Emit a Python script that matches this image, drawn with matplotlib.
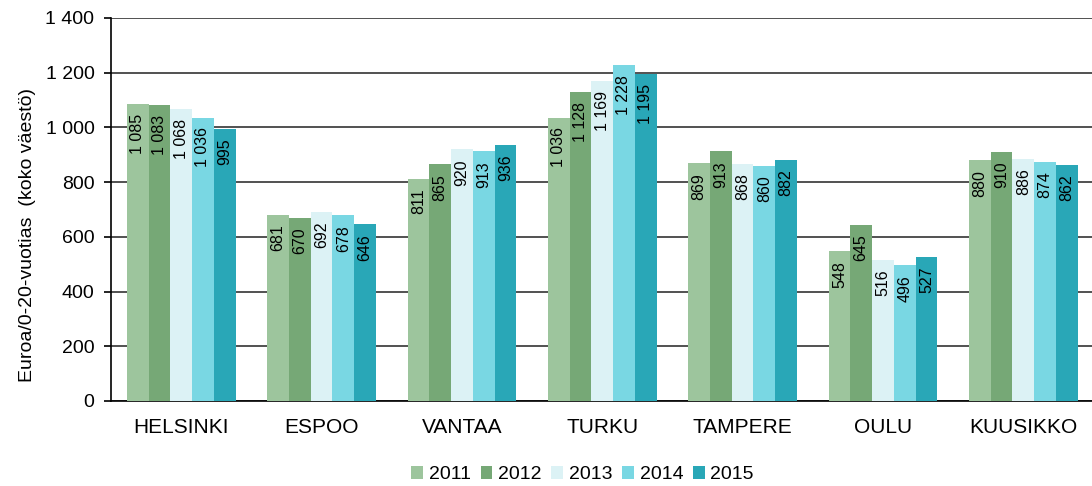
import numpy as np
import matplotlib
matplotlib.use("Agg")
import matplotlib.pyplot as plt

plt.rcParams['font.family'] = ['Liberation Sans', 'DejaVu Sans']

##### Data
cities = ["HELSINKI", "ESPOO", "VANTAA", "TURKU", "TAMPERE", "OULU", "KUUSIKKO"]
years = ["2011", "2012", "2013", "2014", "2015"]
v2011 = [1085, 681, 811, 1036, 869, 548, 880]
v2012 = [1083, 670, 865, 1128, 913, 645, 910]
v2013 = [1068, 692, 920, 1169, 868, 516, 886]
v2014 = [1036, 678, 913, 1228, 860, 496, 874]
v2015 = [995, 646, 936, 1195, 882, 527, 862]
colors = ["#9dc59d", "#76a876", "#dcf2f5", "#79d7e3", "#29a7b7"]

series = [v2011, v2012, v2013, v2014, v2015]


def fmt(v):
    return "{:,}".format(v).replace(",", " ")


fig = plt.figure(figsize=(10.92, 4.86), dpi=100)
ax = fig.add_axes([0.1017, 0.175, 0.8996, 0.788])

x = np.arange(len(cities))
w = 0.155
for i, vals in enumerate(series):
    pos = x + (i - 2) * w
    ax.bar(pos, vals, width=w, color=colors[i], label=years[i], zorder=3)
    for p, v in zip(pos, vals):
        ax.annotate(fmt(v), (p, v), xytext=(0, -7), textcoords="offset points",
                    rotation=90, ha="center", va="top", fontsize=11.5, zorder=4)

ax.set_xlim(-0.5, len(cities) - 0.5)
ax.set_ylim(0, 1400)
ax.set_yticks(range(0, 1401, 200))
ax.set_yticklabels([fmt(t) for t in range(0, 1401, 200)], fontsize=14)
ax.set_xticks(x)
ax.set_xticklabels(cities, fontsize=15)
ax.tick_params(axis="x", length=0, pad=12)
ax.tick_params(axis="y", direction="out", length=5, width=1.2, color="black", pad=7)
ax.yaxis.grid(True, color="#333333", linewidth=1.2, zorder=0)
ax.set_axisbelow(True)
for s in ["top", "right"]:
    ax.spines[s].set_visible(False)
ax.spines["left"].set_linewidth(1.2)
ax.spines["bottom"].set_linewidth(1.2)
fig.text(28 / 1092, 1 - 235 / 486, "Euroa/0-20-vuotias  (koko väestö)", rotation=90,
         ha="center", va="center", fontsize=14)

ax.legend(loc="upper center", bbox_to_anchor=(0.48, -0.125), ncol=5, frameon=False,
          fontsize=14, handlelength=0.6, handleheight=0.6, handletextpad=0.3,
          columnspacing=0.5)

fig.savefig("out.png", dpi=100)
